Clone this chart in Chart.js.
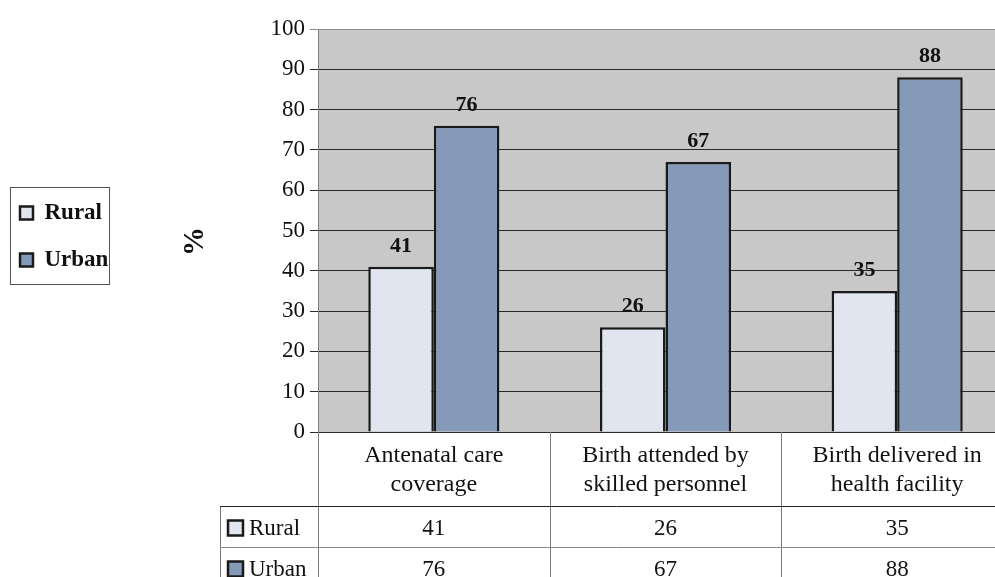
<!DOCTYPE html>
<html>
<head>
<meta charset="utf-8">
<script src="https://cdn.jsdelivr.net/npm/chart.js@4.4.0/dist/chart.umd.min.js"></script>
<style>
  html, body { margin: 0; padding: 0; background: #fff; overflow: hidden; }
  #wrap { width: 995px; height: 577px; overflow: hidden; position: relative; }
  #c { position: absolute; left: 0; top: 0; }
</style>
</head>
<body>
<div id="wrap"><canvas id="c" width="1013" height="577"></canvas></div>
<script>
// Categories (two-line labels), series and values
const categories = [
  ['Antenatal care', 'coverage'],
  ['Birth attended by', 'skilled personnel'],
  ['Birth delivered in', 'health facility']
];
const seriesNames = ['Rural', 'Urban'];
const ruralValues = [41, 26, 35];
const urbanValues = [76, 67, 88];
const yTickValues = [0, 10, 20, 30, 40, 50, 60, 70, 80, 90, 100];
const yAxisTitle = '%';

const SERIF = '"Liberation Serif", "Times New Roman", serif';
const fillColors = ['#e1e5ef', '#8599b9'];
const edgeColor = '#1a1a1a';
const plotFill = '#c8c8c8';
const LEFT_PAD = -4;
const PLOT_LEFT = 318;

// Grey plot background
const plotBackground = {
  id: 'plotBackground',
  beforeDraw(chart) {
    const { ctx, chartArea: a } = chart;
    ctx.save();
    ctx.fillStyle = plotFill;
    ctx.fillRect(a.left, a.top, a.right - a.left, a.bottom - a.top);
    ctx.restore();
  }
};

// Bold value labels above each bar
const barValueLabels = {
  id: 'barValueLabels',
  afterDatasetsDraw(chart) {
    const { ctx } = chart;
    ctx.save();
    ctx.font = 'bold 22px ' + SERIF;
    ctx.fillStyle = '#111';
    ctx.textAlign = 'center';
    ctx.textBaseline = 'alphabetic';
    chart.data.datasets.forEach((ds, di) => {
      chart.getDatasetMeta(di).data.forEach((bar, i) => {
        ctx.fillText(String(ds.data[i]), bar.x, bar.y - 15);
      });
    });
    ctx.restore();
  }
};

// Frame around the legend
const legendFrame = {
  id: 'legendFrame',
  afterDraw(chart) {
    const lg = chart.legend;
    if (!lg || !lg.legendHitBoxes || !lg.legendHitBoxes.length) return;
    const hb = lg.legendHitBoxes;
    const left = hb[0].left - 10;
    const top = hb[0].top - 15;
    const right = Math.max(...hb.map(h => h.left + h.width)) + 1;
    const last = hb[hb.length - 1];
    const bottom = last.top + last.height + 12;
    const { ctx } = chart;
    ctx.save();
    ctx.strokeStyle = '#555';
    ctx.lineWidth = 1;
    ctx.strokeRect(Math.round(left) + 0.5, Math.round(top) + 0.5, Math.round(right - left), Math.round(bottom - top));
    ctx.restore();
  }
};

// Data table under the plot: category header row plus one row per series
const dataTable = {
  id: 'dataTable',
  afterDraw(chart) {
    const { ctx, chartArea: a } = chart;
    const xs = chart.scales.x;
    const n = categories.length;
    const colW = (xs.right - xs.left) / n;
    const keyLeft = 220;
    const headerBottom = a.bottom + 74;
    const rowH = 41;
    const rowBottoms = seriesNames.map((_, r) => headerBottom + rowH * (r + 1));
    const tableBottom = rowBottoms[rowBottoms.length - 1];

    ctx.save();
    // vertical dividers
    ctx.strokeStyle = '#7a7a7a';
    ctx.lineWidth = 1;
    for (let i = 0; i <= n; i++) {
      const x = Math.round(xs.left + colW * i) + 0.5;
      ctx.beginPath();
      ctx.moveTo(x, a.bottom);
      ctx.lineTo(x, tableBottom);
      ctx.stroke();
    }
    // left edge of the key column
    ctx.beginPath();
    ctx.moveTo(keyLeft + 0.5, headerBottom);
    ctx.lineTo(keyLeft + 0.5, tableBottom);
    ctx.stroke();
    // horizontal rules
    ctx.strokeStyle = '#222';
    ctx.beginPath();
    ctx.moveTo(keyLeft, Math.round(headerBottom) + 0.5);
    ctx.lineTo(xs.right, Math.round(headerBottom) + 0.5);
    ctx.stroke();
    ctx.strokeStyle = '#8a8a8a';
    rowBottoms.forEach(yb => {
      ctx.beginPath();
      ctx.moveTo(keyLeft, Math.round(yb) + 0.5);
      ctx.lineTo(xs.right, Math.round(yb) + 0.5);
      ctx.stroke();
    });

    // header: category names
    ctx.fillStyle = '#111';
    ctx.font = '24px ' + SERIF;
    ctx.textAlign = 'center';
    ctx.textBaseline = 'middle';
    categories.forEach((lines, i) => {
      const cx = xs.getPixelForValue(i);
      lines.forEach((t, k) => ctx.fillText(t, cx, a.bottom + 24 + k * 29));
    });

    // series rows
    const rows = [ruralValues, urbanValues];
    ctx.font = '23px ' + SERIF;
    rows.forEach((vals, r) => {
      const cy = headerBottom + rowH * r + rowH / 2 + 2;
      // key swatch
      ctx.fillStyle = fillColors[r];
      ctx.fillRect(228, cy - 8, 15, 15);
      ctx.strokeStyle = edgeColor;
      ctx.lineWidth = 2.5;
      ctx.strokeRect(228, cy - 8, 15, 15);
      ctx.fillStyle = '#111';
      ctx.textAlign = 'left';
      ctx.fillText(seriesNames[r], 249, cy);
      ctx.textAlign = 'center';
      vals.forEach((v, i) => ctx.fillText(String(v), xs.getPixelForValue(i), cy));
    });
    ctx.restore();
  }
};

const chart = new Chart(document.getElementById('c'), {
  type: 'bar',
  data: {
    labels: categories,
    datasets: [
      { label: seriesNames[0], data: ruralValues, backgroundColor: fillColors[0], borderColor: edgeColor, borderWidth: 2.5 },
      { label: seriesNames[1], data: urbanValues, backgroundColor: fillColors[1], borderColor: edgeColor, borderWidth: 2.5 }
    ]
  },
  options: {
    responsive: false,
    animation: false,
    devicePixelRatio: 1,
    categoryPercentage: 0.566,
    barPercentage: 1.0,
    layout: { padding: { left: LEFT_PAD, top: 29, right: 0, bottom: 145 } },
    scales: {
      x: { display: false },
      y: {
        min: 0,
        max: 100,
        afterBuildTicks(scale) { scale.ticks = yTickValues.map(v => ({ value: v })); },
        afterFit(scale) {
          const lw = scale.chart.legend ? scale.chart.legend.width : 0;
          scale.width = PLOT_LEFT - LEFT_PAD - lw;
        },
        ticks: { color: '#111', font: { family: SERIF, size: 23 }, padding: 5 },
        grid: {
          color: ctx => (ctx.tick && ctx.tick.value === 100 ? '#8a8a8a' : '#2a2a2a'),
          lineWidth: 1,
          tickLength: 8,
          drawTicks: true
        },
        border: { display: true, color: '#808080', width: 1 },
        title: {
          display: true,
          text: yAxisTitle + '   ',
          color: '#111',
          font: { family: SERIF, size: 29, weight: 'bold' },
          padding: { top: 60, bottom: 0 }
        }
      }
    },
    plugins: {
      legend: {
        position: 'left',
        align: 'center',
        fullSize: false,
        title: { display: true, text: ' ', font: { size: 10 }, padding: 0 },
        labels: {
          boxWidth: 13,
          boxHeight: 13,
          padding: 24,
          color: '#111',
          font: { family: SERIF, size: 23, weight: 'bold' }
        }
      },
      tooltip: { enabled: false }
    }
  },
  plugins: [plotBackground, barValueLabels, legendFrame, dataTable]
});
</script>
</body>
</html>
